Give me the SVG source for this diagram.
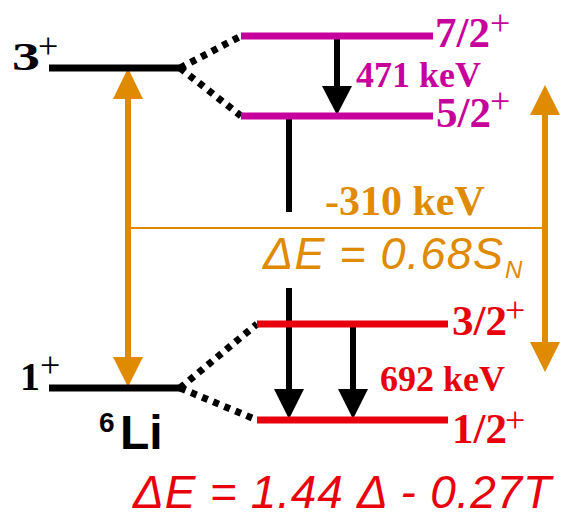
<svg xmlns="http://www.w3.org/2000/svg" width="561" height="512" viewBox="0 0 561 512">
<style>
.lv{stroke-width:7;fill:none;stroke-linecap:butt}
.blk{stroke:#000}
.mag{stroke:#C8009B}
.red{stroke:#E8000C}
.dot{stroke:#000;stroke-width:7;stroke-dasharray:6 6;fill:none}
.serif{font-family:"Liberation Serif","Times New Roman",serif;font-weight:bold}
.sans{font-family:"Liberation Sans",Arial,sans-serif}
.sup{font-family:"Liberation Serif","Times New Roman",serif;font-weight:normal;font-size:36px}
</style>
<rect width="561" height="512" fill="#fff"/>
<g id="connectors">
  <line class="dot" x1="180" y1="68" x2="241" y2="36"/>
  <line class="dot" x1="180" y1="68" x2="241" y2="116"/>
  <line class="dot" x1="180" y1="388" x2="257" y2="324"/>
  <line class="dot" x1="180" y1="388" x2="257" y2="420"/>
  <line x1="128" y1="96" x2="128" y2="360" stroke="#E08A00" stroke-width="6"/>
  <polygon points="128,68 113,99 143,99" fill="#E08A00"/>
  <polygon points="128,387 113,357 143,357" fill="#E08A00"/>
  <line x1="545" y1="112" x2="545" y2="345" stroke="#E08A00" stroke-width="6"/>
  <polygon points="545,85 530,115 560,115" fill="#E08A00"/>
  <polygon points="545,372 530,342 560,342" fill="#E08A00"/>
  <line x1="131" y1="228" x2="542" y2="228" stroke="#E08A00" stroke-width="2"/>
  <line x1="337" y1="36" x2="337" y2="90" stroke="#000" stroke-width="6"/>
  <polygon points="337,115 322,86 352,86" fill="#000"/>
  <line x1="289" y1="117" x2="289" y2="212" stroke="#000" stroke-width="6"/>
  <line x1="289" y1="288" x2="289" y2="392" stroke="#000" stroke-width="6"/>
  <polygon points="289,419 274,389 304,389" fill="#000"/>
  <line x1="353" y1="324" x2="353" y2="392" stroke="#000" stroke-width="6"/>
  <polygon points="353,419 338,389 368,389" fill="#000"/>
</g>
<g id="level-3plus">
  <line class="lv blk" x1="49" y1="68" x2="181" y2="68"/>
  <text class="serif" x="0" y="70" font-size="40" transform="translate(12,0) scale(1.4,1)">3</text>
  <text class="sup" x="38" y="58" font-size="30">+</text>
</g>
<g id="level-1plus">
  <line class="lv blk" x1="49" y1="388" x2="181" y2="388"/>
  <text class="serif" x="20" y="390" font-size="40">1</text>
  <text class="sup" x="40" y="377" font-size="30">+</text>
</g>
<g id="li6">
  <text class="sans" x="99" y="432" font-size="28" font-weight="bold">6</text>
  <text class="sans" x="120" y="449" font-size="48" font-weight="bold">Li</text>
</g>
<g id="level-7-2">
  <line class="lv mag" x1="241" y1="36" x2="433" y2="36"/>
  <text class="serif" x="435" y="47" font-size="43" fill="#C8009B">7/2</text>
  <text class="sup" x="490" y="35" fill="#C8009B">+</text>
</g>
<g id="level-5-2">
  <line class="lv mag" x1="241" y1="116" x2="433" y2="116"/>
  <text class="serif" x="436" y="127" font-size="43" fill="#C8009B">5/2</text>
  <text class="sup" x="490" y="113" fill="#C8009B">+</text>
</g>
<g id="label-471">
  <text class="serif" x="356" y="87" font-size="36" fill="#C8009B">471 keV</text>
</g>
<g id="level-3-2">
  <line class="lv red" x1="257" y1="324" x2="448" y2="324"/>
  <text class="serif" x="452" y="335" font-size="43" fill="#E8000C">3/2</text>
  <text class="sup" x="505" y="322" fill="#E8000C">+</text>
</g>
<g id="level-1-2">
  <line class="lv red" x1="257" y1="420" x2="448" y2="420"/>
  <text class="serif" x="452" y="443" font-size="43" fill="#E8000C">1/2</text>
  <text class="sup" x="505" y="432" fill="#E8000C">+</text>
</g>
<g id="label-692">
  <text class="serif" x="380" y="391" font-size="36" fill="#E8000C">692 keV</text>
</g>
<g id="label-310">
  <text class="serif" x="325" y="215" font-size="42" fill="#E08A00">-310 keV</text>
</g>
<g id="formula-sn">
  <text class="sans" x="263" y="269" font-size="45" font-style="italic" fill="#E08A00" textLength="240" lengthAdjust="spacing">ΔE = 0.68S</text>
  <text class="sans" x="505" y="278" font-size="24" font-style="italic" fill="#E08A00">N</text>
</g>
<g id="formula-bottom">
  <text class="sans" x="133" y="508" font-size="46" font-style="italic" fill="#E8000C" textLength="418" lengthAdjust="spacing">ΔE = 1.44 Δ - 0.27T</text>
</g>
</svg>
